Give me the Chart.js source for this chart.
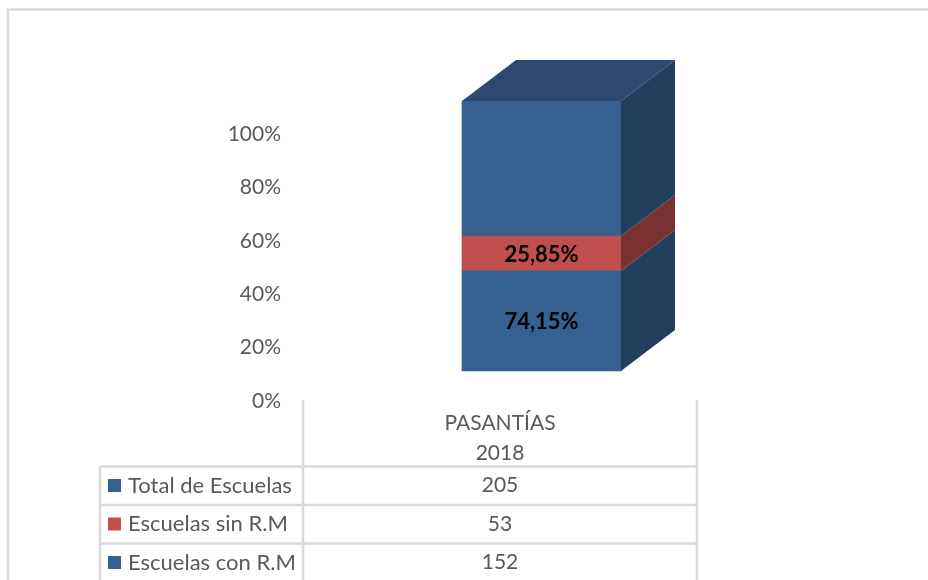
<!DOCTYPE html>
<html><head><meta charset="utf-8">
<style>html,body{margin:0;padding:0;background:#fff}canvas{display:block;filter:blur(0.4px)}</style>
<script src="https://cdn.jsdelivr.net/npm/chart.js@4"></script>
</head><body>
<canvas id="c" width="928" height="580"></canvas>
<script>
const categories = [['PASANTÍAS','2018']];
const seriesNames = ['Escuelas con R.M','Escuelas sin R.M','Total de Escuelas'];
const conRM = [152];
const sinRM = [53];
const totalEscuelas = [205];
const barLabels = ['74,15%','25,85%',null];
const tickValues = [0,20,40,60,80,100];

const frontColors = ['#36608F','#BE4F4C','#36608F'];
const sideColors = ['#223F5E','#7A3231','#223F5E'];
const topColor = '#2D4970';
const textGrey = '#595959';
const lineGrey = '#D9D9D9';
const font = 'Lato, Carlito, sans-serif';
const depthX = 54, depthY = 41;

const stackTotal = conRM[0] + sinRM[0] + totalEscuelas[0];
const pxPerUnit = 270 / stackTotal;

const box3d = {
  id:'box3d',
  afterDatasetsDraw(chart){
    const g = chart.ctx;
    chart.data.datasets.forEach((d,i)=>{
      chart.getDatasetMeta(i).data.forEach(b=>{
        const r = b.x + b.width/2, t = b.y, bt = b.base;
        g.fillStyle = sideColors[i];
        g.beginPath();
        g.moveTo(r,t); g.lineTo(r+depthX,t-depthY); g.lineTo(r+depthX,bt-depthY); g.lineTo(r,bt);
        g.closePath(); g.fill();
        if(i === chart.data.datasets.length-1){
          const l = b.x - b.width/2;
          g.fillStyle = topColor;
          g.beginPath();
          g.moveTo(l,t); g.lineTo(l+depthX,t-depthY); g.lineTo(r+depthX,t-depthY); g.lineTo(r,t);
          g.closePath(); g.fill();
        }
        if(barLabels[i]){
          g.fillStyle = '#000';
          g.font = 'bold 22px '+font;
          g.textAlign='center'; g.textBaseline='middle';
          g.fillText(barLabels[i], b.x, (t+bt)/2 + 1);
        }
      });
    });
  }
};

const tableAndFrame = {
  id:'tableAndFrame',
  beforeDraw(chart){
    const g = chart.ctx;
    g.fillStyle='#fff'; g.fillRect(0,0,928,580);
    g.strokeStyle=lineGrey; g.lineWidth=2.5;
    g.beginPath(); g.moveTo(8,580); g.lineTo(8,9.5); g.lineTo(928,9.5); g.stroke();
  },
  afterDraw(chart){
    const g = chart.ctx;
    const L=100, M=303, R=697, rows=[466.5,505,543.5], end=580;
    g.strokeStyle=lineGrey; g.lineWidth=2.5;
    g.beginPath();
    rows.forEach(y=>{g.moveTo(L,y);g.lineTo(R,y);});
    g.moveTo(L,rows[0]);g.lineTo(L,end);
    g.moveTo(M,400);g.lineTo(M,end);
    g.moveTo(R,400);g.lineTo(R,end);
    g.stroke();
    const values=[totalEscuelas[0],sinRM[0],conRM[0]];
    [2,1,0].forEach((s,k)=>{
      const cy=rows[k]+19;
      g.fillStyle=frontColors[s];
      g.fillRect(108,cy-6.5,13,13);
      g.fillStyle=textGrey;
      g.textBaseline='middle';
      g.textAlign='left';
      g.font='22px '+font;
      g.fillText(seriesNames[s],128,cy);
      g.textAlign='center';
      g.font='21px '+font;
      g.fillText(String(values[k]),(M+R)/2,cy);
    });
  }
};

new Chart(document.getElementById('c'),{
  type:'bar',
  data:{
    labels:categories,
    datasets:[
      {label:seriesNames[0],data:conRM,backgroundColor:frontColors[0]},
      {label:seriesNames[1],data:sinRM,backgroundColor:frontColors[1]},
      {label:seriesNames[2],data:totalEscuelas,backgroundColor:frontColors[2]}
    ].map(d=>({...d,yAxisID:'y',barThickness:159}))
  },
  options:{
    responsive:false,
    animation:false,
    layout:{padding:{top:60,right:148,left:0,bottom:0}},
    plugins:{legend:{display:false},tooltip:{enabled:false},title:{display:false}},
    scales:{
      x:{
        stacked:true,
        grid:{display:false,drawTicks:false},
        border:{display:false},
        afterFit(s){s.height=179;},
        ticks:{
          maxRotation:0,
          labelOffset:-41.5,
          padding:8,
          color:textGrey,
          font:{family:font,size:21,lineHeight:1.4}
        }
      },
      y:{
        stacked:true,
        display:false,
        min:-30/pxPerUnit,
        max:311/pxPerUnit
      },
      y2:{
        position:'left',
        min:0,
        max:(401-60)/2.67,
        grid:{display:false,drawTicks:false},
        border:{display:false},
        afterBuildTicks(s){s.ticks=tickValues.map(v=>({value:v}));},
        afterFit(s){s.width=303;},
        ticks:{
          autoSkip:false,
          padding:22,
          color:textGrey,
          font:{family:font,size:21},
          callback:v=>v+'%'
        }
      }
    }
  },
  plugins:[tableAndFrame,box3d]
});
</script>
</body></html>
